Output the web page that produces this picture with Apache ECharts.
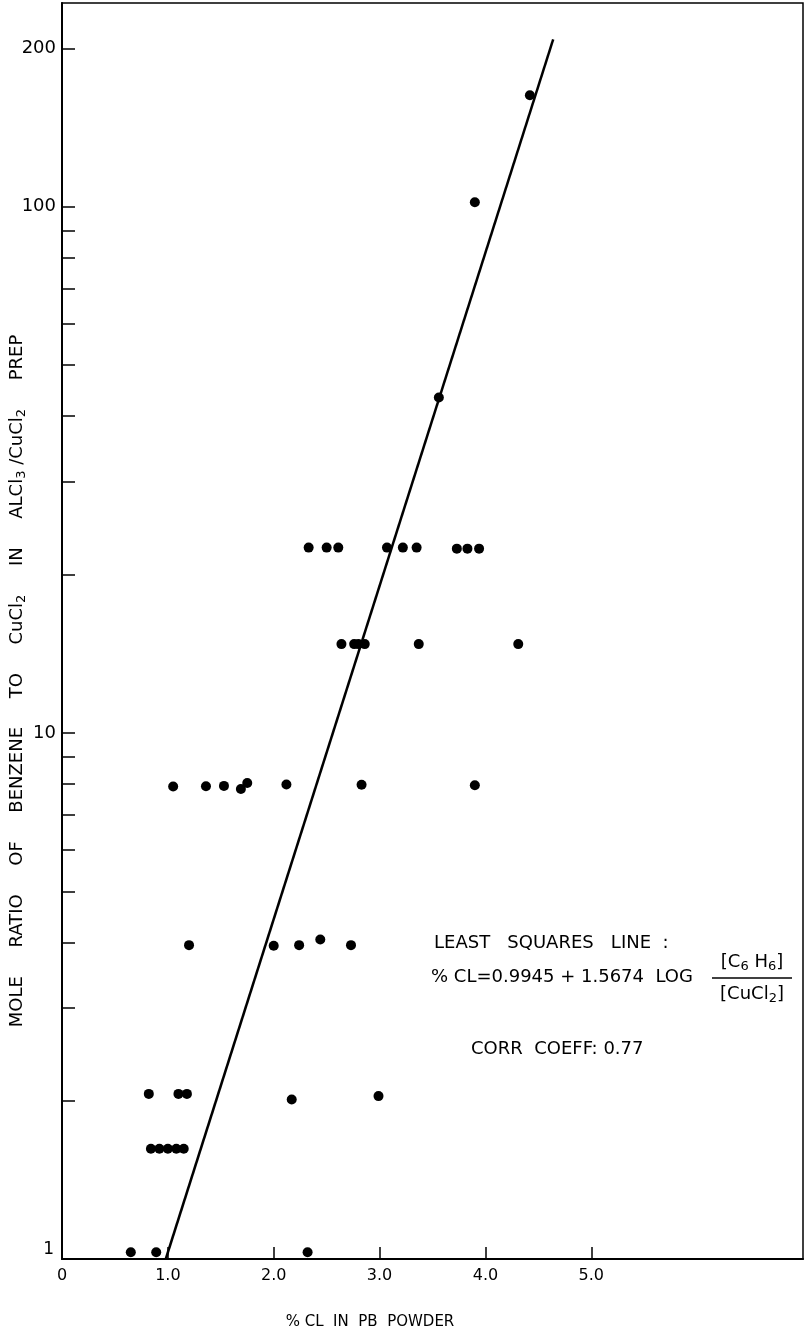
<!DOCTYPE html>
<html><head><meta charset="utf-8">
<script src="https://cdn.jsdelivr.net/npm/echarts@6/dist/echarts.min.js"></script>
<style>html,body{margin:0;padding:0;background:#fff}#c{width:805px;height:1337px}</style>
</head><body><div id="c"></div><script>
// % Cl in Pb powder (x) and mole ratio benzene : CuCl2 (y, log scale)
const pctCl = [
  4.42, 3.90, 3.56,
  2.33, 2.50, 2.61, 3.07, 3.22, 3.35, 3.73, 3.83, 3.94,
  2.64, 2.76, 2.80, 2.86, 3.37, 4.31,
  1.05, 1.36, 1.53, 1.69, 1.75, 2.12, 2.83, 3.90,
  1.20, 2.00, 2.24, 2.44, 2.73,
  0.82, 1.10, 1.18, 2.17, 2.99,
  0.84, 0.92, 1.00, 1.08, 1.15,
  0.65, 0.89, 2.32
];
const moleRatio = [
  163, 102, 43.4,
  22.5, 22.5, 22.5, 22.5, 22.5, 22.5, 22.4, 22.4, 22.4,
  14.75, 14.75, 14.75, 14.75, 14.75, 14.75,
  7.91, 7.92, 7.93, 7.82, 8.03, 7.98, 7.97, 7.95,
  3.95, 3.94, 3.95, 4.05, 3.95,
  2.06, 2.06, 2.06, 2.01, 2.04,
  1.62, 1.62, 1.62, 1.62, 1.62,
  1.03, 1.03, 1.03
];
// least squares line endpoints
const fitLineX = [0.98, 4.64];
const fitLineY = [1, 208];
// axis ticks / labels
const xTickValues = [1, 2, 3, 4, 5];
const xLabelValues = [0, 1, 2, 3, 4, 5];
const yTickValues = [2, 3, 4, 5, 6, 7, 8, 9, 10, 20, 30, 40, 50, 60, 70, 80, 90, 100, 200];
const yLabelValues = [1, 10, 100, 200];

const points = pctCl.map((x, i) => [x, moleRatio[i]]);
const fitLine = fitLineX.map((x, i) => [x, fitLineY[i]]);

const FONT = 'DejaVu Sans';
const INK = '#000';

const chart = echarts.init(document.getElementById('c'), null, {renderer: 'canvas'});
chart.setOption({
  backgroundColor: '#fff',
  animation: false,
  grid: {left: 62, right: 2, top: 3, bottom: 78, show: true, borderColor: INK, borderWidth: 1.5},
  xAxis: {
    type: 'value', min: 0, max: 7,
    axisLine: {show: true, lineStyle: {color: INK, width: 2}},
    axisTick: {show: true, inside: true, length: 12, customValues: xTickValues, lineStyle: {color: INK, width: 1.5}},
    axisLabel: {
      customValues: xLabelValues, margin: 9, color: INK, fontFamily: FONT, fontSize: 16,
      formatter: v => (v === 0 ? '0' : v.toFixed(1))
    },
    splitLine: {show: false}
  },
  yAxis: {
    type: 'log', logBase: 10, min: 1, max: 244,
    axisLine: {show: true, lineStyle: {color: INK, width: 2}},
    axisTick: {show: true, inside: true, length: 13, customValues: yTickValues, lineStyle: {color: INK, width: 1.5}},
    axisLabel: {
      customValues: yLabelValues, margin: 6, color: INK, fontFamily: FONT, fontSize: 18,
      formatter: v => (Math.abs(v - 1) < 1e-9 ? '{low|1}' : String(Math.round(v))),
      rich: {low: {fontFamily: FONT, fontSize: 17, color: INK, padding: [0, 2, 18, 0]}}
    },
    splitLine: {show: false},
    minorTick: {show: false}
  },
  series: [
    {
      type: 'line', data: fitLine, symbol: 'none',
      lineStyle: {color: INK, width: 2.5}, z: 2
    },
    {
      type: 'scatter', data: points, symbol: 'circle', symbolSize: 10,
      itemStyle: {color: INK, opacity: 1}, z: 3
    }
  ],
  graphic: [
    {
      type: 'text', x: 370, y: 1322,
      style: {text: '% CL  IN  PB  POWDER', font: '15px "DejaVu Sans"', fill: INK, align: 'center', verticalAlign: 'middle'}
    },
    {
      type: 'text', x: 17, y: 681, rotation: Math.PI / 2,
      style: {
        text: '{n|MOLE     RATIO     OF     BENZENE     TO     CuCl}{s|2}{n|     IN     ALCl}{s|3}{n| /CuCl}{s|2}{n|     PREP}',
        align: 'center', verticalAlign: 'middle',
        rich: {
          n: {fontFamily: FONT, fontSize: 18, lineHeight: 22, fill: INK, color: INK},
          s: {fontFamily: FONT, fontSize: 13, lineHeight: 13, verticalAlign: 'bottom', fill: INK, color: INK}
        }
      }
    },
    {
      type: 'text', x: 434, y: 943,
      style: {text: 'LEAST   SQUARES   LINE  :', font: '18px "DejaVu Sans"', fill: INK, align: 'left', verticalAlign: 'middle'}
    },
    {
      type: 'text', x: 431, y: 977,
      style: {text: '% CL=0.9945 + 1.5674  LOG', font: '18px "DejaVu Sans"', fill: INK, align: 'left', verticalAlign: 'middle'}
    },
    {
      type: 'text', x: 752, y: 962,
      style: {
        text: '{n|[C}{s|6}{n| H}{s|6}{n|]}', align: 'center', verticalAlign: 'middle',
        rich: {
          n: {fontFamily: FONT, fontSize: 18, lineHeight: 22, fill: INK, color: INK},
          s: {fontFamily: FONT, fontSize: 13, lineHeight: 13, verticalAlign: 'bottom', fill: INK, color: INK}
        }
      }
    },
    {
      type: 'line', shape: {x1: 712, y1: 978, x2: 792, y2: 978},
      style: {stroke: INK, lineWidth: 1.5}
    },
    {
      type: 'text', x: 752, y: 994,
      style: {
        text: '{n|[CuCl}{s|2}{n|]}', align: 'center', verticalAlign: 'middle',
        rich: {
          n: {fontFamily: FONT, fontSize: 18, lineHeight: 22, fill: INK, color: INK},
          s: {fontFamily: FONT, fontSize: 13, lineHeight: 13, verticalAlign: 'bottom', fill: INK, color: INK}
        }
      }
    },
    {
      type: 'text', x: 471, y: 1049,
      style: {text: 'CORR  COEFF: 0.77', font: '18px "DejaVu Sans"', fill: INK, align: 'left', verticalAlign: 'middle'}
    }
  ]
});
</script></body></html>
